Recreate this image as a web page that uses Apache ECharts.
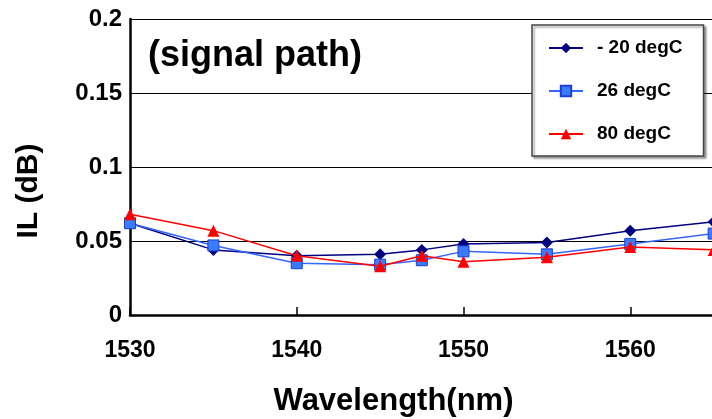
<!DOCTYPE html>
<html>
<head>
<meta charset="utf-8">
<script src="https://cdn.jsdelivr.net/npm/echarts@6/dist/echarts.min.js"></script>
<style>
  html, body { margin: 0; padding: 0; background: #fff; }
  #chart { width: 712px; height: 419px; }
</style>
</head>
<body>
<div id="chart"></div>
<script>
// wavelength points (nm)
const wavelengths = [1530, 1535, 1540, 1545, 1547.5, 1550, 1555, 1560, 1565]
// insertion loss per temperature (dB)
const ilMinus20 = [0.062, 0.044, 0.040, 0.041, 0.044, 0.048, 0.049, 0.057, 0.063]
const il26 = [0.062, 0.047, 0.035, 0.034, 0.037, 0.043, 0.041, 0.048, 0.055]
const il80 = [0.068, 0.057, 0.040, 0.033, 0.040, 0.036, 0.039, 0.046, 0.044]
const seriesNames = ['- 20 degC', '26 degC', '80 degC']
const yTicks = [0, 0.05, 0.1, 0.15, 0.2]

const chart = echarts.init(document.getElementById('chart'))
const font = 'Liberation Sans, Arial, sans-serif'

const pairs = vals => wavelengths.map((w, i) => [w, vals[i]])

const option = {
    animation: false,
    backgroundColor: '#fff',
    title: {
        text: '(signal path)',
        left: 143,
        top: 33,
        textStyle: { fontFamily: font, fontSize: 36, fontWeight: 'bold', color: '#000' }
    },
    legend: {
        orient: 'vertical',
        left: 532,
        top: 25,
        padding: [13, 21, 12, 16],
        itemGap: 23,
        itemWidth: 34,
        itemHeight: 13,
        backgroundColor: '#fff',
        borderColor: '#444',
        borderWidth: 1.5,
        borderRadius: 0,
        shadowColor: 'rgba(0,0,0,0.35)',
        shadowBlur: 2,
        shadowOffsetX: 2,
        shadowOffsetY: 2,
        textStyle: { fontFamily: font, fontSize: 19, fontWeight: 'bold', color: '#000', padding: [0, 0, 0, 9], lineHeight: 20 },
        data: seriesNames
    },
    grid: { left: 130, top: 19, bottom: 104, right: -85, outerBoundsMode: 'none' },
    xAxis: {
        type: 'value',
        min: 1530,
        max: 1570,
        interval: 10,
        name: 'Wavelength(nm)',
        nameLocation: 'middle',
        nameGap: 71,
        nameTextStyle: { fontFamily: font, fontSize: 31, fontWeight: 'bold', color: '#000', padding: [0, 140, 0, 0] },
        axisLine: { lineStyle: { color: '#000', width: 2.5 } },
        axisTick: { inside: true, length: 8, lineStyle: { color: '#000', width: 1.5 } },
        axisLabel: { fontFamily: font, fontSize: 23, fontWeight: 'bold', color: '#000', margin: 24, formatter: v => String(v) },
        splitLine: { show: false }
    },
    yAxis: {
        type: 'value',
        min: yTicks[0],
        max: yTicks[yTicks.length - 1],
        interval: 0.05,
        name: 'IL (dB)',
        nameLocation: 'middle',
        nameGap: 86,
        nameRotate: 90,
        nameTextStyle: { fontFamily: font, fontSize: 30, fontWeight: 'bold', color: '#000', padding: [0, 48, 0, 0] },
        axisLine: { show: true, lineStyle: { color: '#000', width: 2.5 } },
        axisTick: { show: false },
        axisLabel: { fontFamily: font, fontSize: 24, fontWeight: 'bold', color: '#000', margin: 8 },
        splitLine: { show: true, lineStyle: { color: '#000', width: 1.2 } }
    },
    series: [
        {
            name: seriesNames[0],
            type: 'line',
            data: pairs(ilMinus20),
            symbol: 'diamond',
            symbolSize: 12,
            lineStyle: { color: '#000080', width: 1.5 },
            itemStyle: { color: '#000080' },
            z: 3
        },
        {
            name: seriesNames[1],
            type: 'line',
            data: pairs(il26),
            symbol: 'rect',
            symbolSize: 11,
            lineStyle: { color: '#3366ff', width: 1.5 },
            itemStyle: { color: '#3a7bff', borderColor: '#1f3fd0', borderWidth: 1 },
            z: 4
        },
        {
            name: seriesNames[2],
            type: 'line',
            data: pairs(il80),
            symbol: 'triangle',
            symbolSize: 12,
            lineStyle: { color: '#ff0000', width: 1.5 },
            itemStyle: { color: '#ff0000' },
            z: 5
        }
    ]
}

chart.setOption(option)
</script>
</body>
</html>
